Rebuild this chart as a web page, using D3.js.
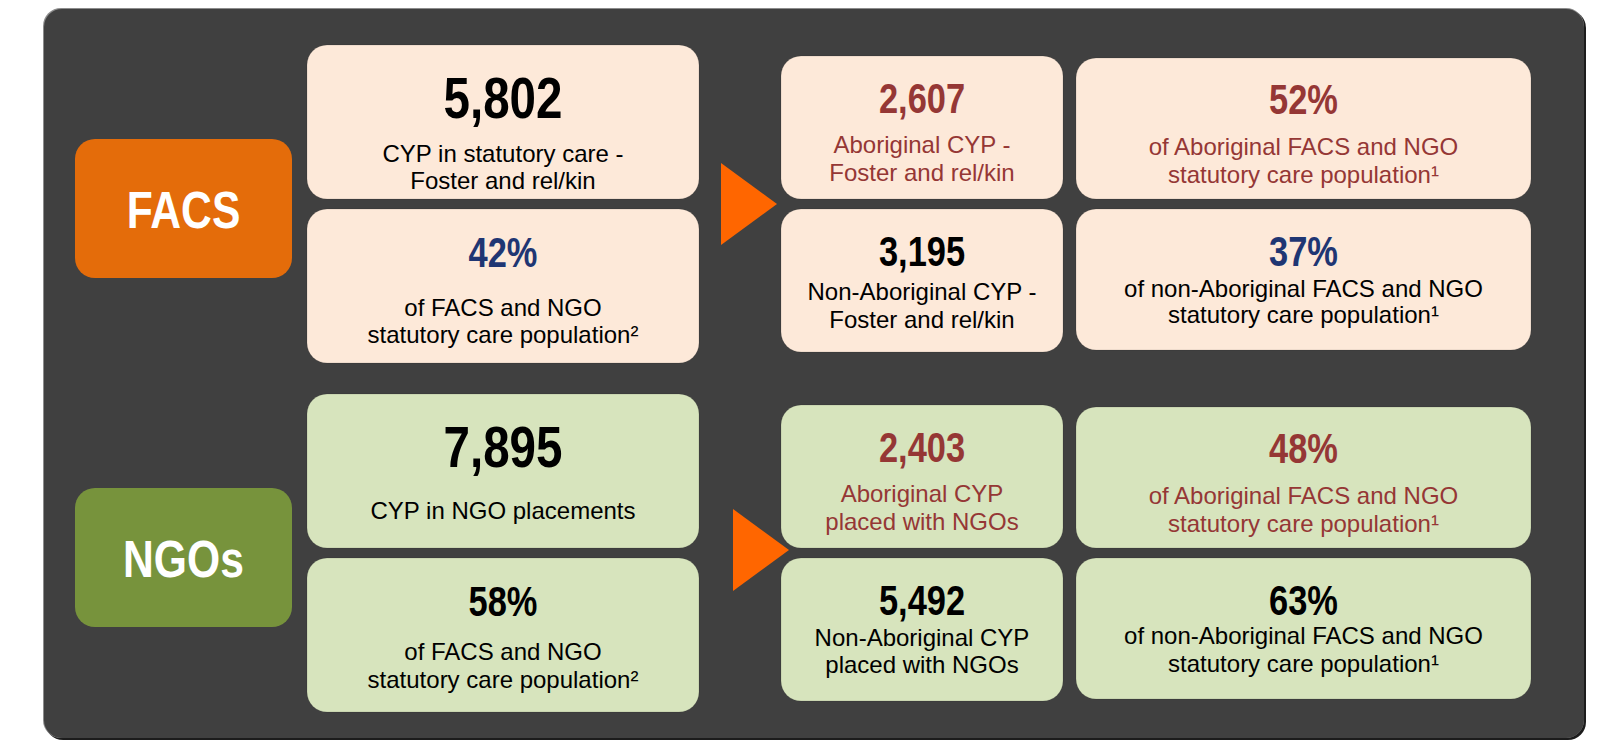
<!DOCTYPE html>
<html>
<head>
<meta charset="utf-8">
<script src="https://cdn.jsdelivr.net/npm/d3@7"></script>
<style>
  html, body { margin: 0; padding: 0; background: #ffffff; }
  svg { display: block; }
</style>
</head>
<body>
<svg id="chart" width="1601" height="742"></svg>
<script>
// ---------------- DATA ----------------
const groups = ["FACS", "NGOs"];
const totals = [5802, 7895];
const totalLabels = [["CYP in statutory care -", "Foster and rel/kin"], ["CYP in NGO placements"]];
const sharesOfCare = [42, 58];
const shareLabels = [["of FACS and NGO", "statutory care population\u00B2"], ["of FACS and NGO", "statutory care population\u00B2"]];
const aboriginalCounts = [2607, 2403];
const aboriginalCountLabels = [["Aboriginal CYP -", "Foster and rel/kin"], ["Aboriginal CYP", "placed with NGOs"]];
const nonAboriginalCounts = [3195, 5492];
const nonAboriginalCountLabels = [["Non-Aboriginal CYP -", "Foster and rel/kin"], ["Non-Aboriginal CYP", "placed with NGOs"]];
const aboriginalShares = [52, 48];
const aboriginalShareLabels = [["of Aboriginal FACS and NGO", "statutory care population\u00B9"], ["of Aboriginal FACS and NGO", "statutory care population\u00B9"]];
const nonAboriginalShares = [37, 63];
const nonAboriginalShareLabels = [["of non-Aboriginal FACS and NGO", "statutory care population\u00B9"], ["of non-Aboriginal FACS and NGO", "statutory care population\u00B9"]];

// ---------------- STYLE / LAYOUT ----------------
const fmtCount = d3.format(",");
const fmtPct = d => d + "%";
const C = {
  panel: "#404040", peach: "#FDE9D9", green: "#D7E4BD",
  facs: "#E46C0A", ngo: "#77933C", arrow: "#FF6600",
  red: "#953735", navy: "#1F3673", black: "#000000"
};
const groupFill = d3.scaleOrdinal().domain(groups).range([C.peach, C.green]);
const labelFill = d3.scaleOrdinal().domain(groups).range([C.facs, C.ngo]);
const groupOffset = d3.scaleOrdinal().domain(groups).range([0, 349]);
const arrowX = d3.scaleOrdinal().domain(groups).range([721, 733]);

const colX = d3.scaleOrdinal().domain(["label", "total", "count", "share"]).range([75, 307, 781, 1076]);
const colW = d3.scaleOrdinal().domain(["label", "total", "count", "share"]).range([217, 392, 282, 455]);

const svg = d3.select("#chart");
const NARROW = "'Liberation Sans Narrow', 'Arial Narrow', sans-serif";
const REG = "'Liberation Sans', Arial, sans-serif";

// detect narrow font availability
const t1 = svg.append("text").attr("font-family", NARROW).attr("font-weight", "bold").attr("font-size", 100).text("5,802");
const t2 = svg.append("text").attr("font-family", REG).attr("font-weight", "bold").attr("font-size", 100).text("5,802");
const ratio = t1.node().getComputedTextLength() / t2.node().getComputedTextLength();
t1.remove(); t2.remove();
const sx = ratio > 0.93 ? 0.82 : 1;

// ---------------- PANEL ----------------
const P = { x: 44, y: 9, w: 1541, h: 730, r: 18 };
svg.append("rect").attr("x", P.x + 1).attr("y", P.y + 1).attr("width", P.w).attr("height", P.h).attr("rx", P.r).attr("fill", "#1c1c1c");
svg.append("rect").attr("x", P.x - 1).attr("y", P.y - 1).attr("width", P.w).attr("height", P.h).attr("rx", P.r).attr("fill", "#8c8c8c");
svg.append("rect").attr("x", P.x).attr("y", P.y).attr("width", P.w - 1).attr("height", P.h - 1).attr("rx", P.r).attr("fill", C.panel);

// ---------------- CELLS ----------------
// each cell: column, top, height, value text, colour, label lines, baseline offsets
const cells = [];
groups.forEach((g, i) => {
  cells.push({ g, col: "total", top: 45, h: 154, val: fmtCount(totals[i]), size: 58, color: C.black,
               lines: totalLabels[i], numY: 73, linesY: i === 0 ? [116.7, 144.3] : [125] , lineColor: C.black});
  cells.push({ g, col: "total", top: 209, h: 154, val: fmtPct(sharesOfCare[i]), size: 42, color: i === 0 ? C.navy : C.black,
               lines: shareLabels[i], numY: 57.8, linesY: i === 0 ? [107, 134.3] : [101.5, 130], lineColor: C.black });
  cells.push({ g, col: "count", top: 56, h: 143, val: fmtCount(aboriginalCounts[i]), size: 42, color: C.red,
               lines: aboriginalCountLabels[i], numY: 56.7, linesY: [97.3, 125], lineColor: C.red });
  cells.push({ g, col: "count", top: 209, h: 143, val: fmtCount(nonAboriginalCounts[i]), size: 42, color: C.black,
               lines: nonAboriginalCountLabels[i], numY: 57, linesY: i === 0 ? [91, 119.3] : [88.3, 115], lineColor: C.black });
  cells.push({ g, col: "share", top: 58, h: 141, val: fmtPct(aboriginalShares[i]), size: 42, color: C.red,
               lines: aboriginalShareLabels[i], numY: 56.3, linesY: [97, 125], lineColor: C.red });
  cells.push({ g, col: "share", top: 209, h: 141, val: fmtPct(nonAboriginalShares[i]), size: 42, color: i === 0 ? C.navy : C.black,
               lines: nonAboriginalShareLabels[i], numY: 57, linesY: i === 0 ? [87.7, 114.3] : [86, 113.7], lineColor: C.black });
});

const cellG = svg.selectAll("g.cell").data(cells).join("g").attr("class", "cell")
  .attr("transform", d => `translate(${colX(d.col)},${d.top + groupOffset(d.g)})`);

cellG.append("rect")
  .attr("width", d => colW(d.col)).attr("height", d => d.h)
  .attr("rx", 20).attr("ry", 20)
  .attr("fill", d => groupFill(d.g))
  .attr("stroke", "#000").attr("stroke-opacity", 0.12).attr("stroke-width", 1);

cellG.append("text")
  .attr("transform", d => `translate(${colW(d.col) / 2},${d.numY}) scale(${sx},1)`)
  .attr("text-anchor", "middle")
  .attr("font-family", NARROW).attr("font-weight", "bold")
  .attr("font-size", d => d.size)
  .attr("fill", d => d.color)
  .text(d => d.val);

cellG.each(function (d) {
  const sel = d3.select(this);
  d.lines.forEach((ln, k) => {
    sel.append("text")
      .attr("x", colW(d.col) / 2).attr("y", d.linesY[k])
      .attr("text-anchor", "middle")
      .attr("font-family", REG).attr("font-size", 24)
      .attr("fill", d.lineColor)
      .text(ln);
  });
});

// ---------------- GROUP LABELS ----------------
const lab = svg.selectAll("g.lab").data(groups).join("g").attr("class", "lab")
  .attr("transform", g => `translate(${colX("label")},${139 + groupOffset(g)})`);
lab.append("rect").attr("width", colW("label")).attr("height", 139).attr("rx", 20)
  .attr("fill", g => labelFill(g));
lab.append("text")
  .attr("transform", `translate(${colW("label") / 2},${89}) scale(${sx},1)`)
  .attr("text-anchor", "middle")
  .attr("font-family", NARROW).attr("font-weight", "bold").attr("font-size", 52)
  .attr("fill", "#ffffff")
  .text(g => g);

// ---------------- ARROWS ----------------
svg.selectAll("path.arrow").data(groups).join("path").attr("class", "arrow")
  .attr("d", g => {
    const x = arrowX(g), y = 163 + groupOffset(g) - (g === "NGOs" ? 3 : 0);
    return `M${x},${y} L${x + 56},${y + 41} L${x},${y + 82} Z`;
  })
  .attr("fill", C.arrow);
</script>
</body>
</html>
